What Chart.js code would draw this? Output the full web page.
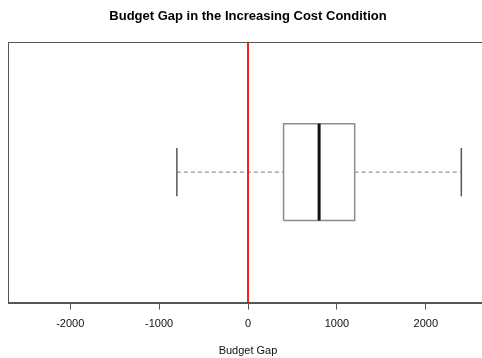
<!DOCTYPE html>
<html>
<head>
<meta charset="utf-8">
<script src="https://cdn.jsdelivr.net/npm/chart.js@4.4.1/dist/chart.umd.min.js"></script>
<style>
  html, body { margin: 0; padding: 0; background: #fff; overflow: hidden; }
  #wrap { width: 490px; height: 358px; }
</style>
</head>
<body>
<div id="wrap"><canvas id="c" width="490" height="358"></canvas></div>
<script>
// Five-number summary of the budget gap
const whiskerEnds = [-800, 2400];      // lower / upper whisker
const quartiles   = [400, 800, 1200];  // Q1, median, Q3
const referenceAt = [0];               // vertical reference line
const xTicks      = [-2000, -1000, 0, 1000, 2000];
const xRange      = [-2700, 2700];

const [q1, med, q3] = quartiles;
const [wLo, wHi] = whiskerEnds;
const yMin = 0.46, yMax = 1.54;

const lineDs = (data, color, width, dash) => ({
  type: 'line', data, borderColor: color, borderWidth: width,
  borderDash: dash || [], pointRadius: 0, fill: false, tension: 0,
  showLine: true, borderCapStyle: 'butt', spanGaps: false
});

const datasets = [
  // reference line (first = drawn on top)
  lineDs([{x: referenceAt[0], y: yMin}, {x: referenceAt[0], y: yMax}], '#ff1a1a', 2),
  // median
  lineDs([{x: med, y: 0.8}, {x: med, y: 1.2}], '#111', 3),
  // box
  lineDs([{x: q1, y: 0.8}, {x: q3, y: 0.8}, {x: q3, y: 1.2}, {x: q1, y: 1.2}, {x: q1, y: 0.8}], '#8c8c8c', 1.5),
  // dashed whiskers
  lineDs([{x: wLo, y: 1}, {x: q1, y: 1}], '#7a7a7a', 1, [4, 3]),
  lineDs([{x: q3, y: 1}, {x: wHi, y: 1}], '#7a7a7a', 1, [4, 3]),
  // staples
  lineDs([{x: wLo, y: 0.9}, {x: wLo, y: 1.1}], '#555', 1.5),
  lineDs([{x: wHi, y: 0.9}, {x: wHi, y: 1.1}], '#555', 1.5)
];

const frame = {
  id: 'frame',
  afterDraw(chart) {
    const a = chart.chartArea, ctx = chart.ctx;
    ctx.save();
    ctx.strokeStyle = '#555';
    ctx.lineWidth = 1;
    ctx.strokeRect(Math.round(a.left) + 0.5, Math.round(a.top) + 0.5,
                   Math.round(a.right - a.left), Math.round(a.bottom - a.top));
    ctx.restore();
  }
};

new Chart(document.getElementById('c'), {
  type: 'scatter',
  data: { datasets },
  plugins: [frame],
  options: {
    responsive: false,
    animation: false,
    events: [],
    layout: { padding: { left: 8, right: 2, top: 0, bottom: 0 } },
    plugins: {
      legend: { display: false },
      tooltip: { enabled: false },
      title: {
        display: true,
        text: 'Budget Gap in the Increasing Cost Condition',
        color: '#000',
        font: { family: 'Liberation Sans, Arial, sans-serif', size: 13, weight: 'bold' },
        padding: { top: 9, bottom: 17 }
      }
    },
    scales: {
      x: {
        type: 'linear',
        min: xRange[0], max: xRange[1],
        afterBuildTicks: s => { s.ticks = xTicks.map(v => ({ value: v })); },
        grid: { drawOnChartArea: false, drawTicks: true, tickLength: 7, color: '#555', tickColor: '#555' },
        border: { display: true, color: '#555', width: 1 },
        ticks: {
          color: '#111', padding: 8,
          font: { family: 'Liberation Sans, Arial, sans-serif', size: 11 },
          callback: v => String(v)
        },
        title: {
          display: true, text: 'Budget Gap', color: '#111',
          font: { family: 'Liberation Sans, Arial, sans-serif', size: 11 },
          padding: { top: 6, bottom: 0 }
        }
      },
      y: { type: 'linear', min: yMin, max: yMax, display: false }
    }
  }
});
</script>
</body>
</html>
